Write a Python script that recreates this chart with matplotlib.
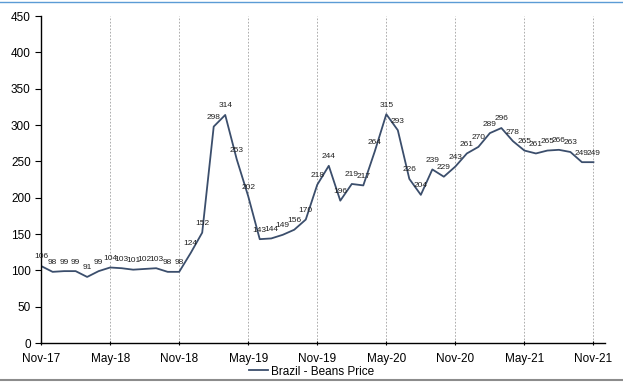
import matplotlib
matplotlib.use("Agg")
import matplotlib.pyplot as plt
from matplotlib.lines import Line2D

plt.rcParams['font.family'] = ['Liberation Sans', 'DejaVu Sans']

# Monthly prices, Nov-17 .. Nov-21
prices = [106, 98, 99, 99, 91, 99, 104, 103, 101, 102, 103, 98,
          98, 124, 152, 298, 314, 253, 202, 143, 144, 149, 156, 170,
          218, 244, 196, 219, 217, 264, 315, 293, 226, 204, 239, 229,
          243, 261, 270, 289, 296, 278, 265, 261, 265, 266, 263, 249, 249]
tick_labels = ["Nov-17", "May-18", "Nov-18", "May-19", "Nov-19",
               "May-20", "Nov-20", "May-21", "Nov-21"]
series_name = "Brazil - Beans Price"

line_color = "#3b4e6c"

fig = plt.figure(figsize=(6.23, 3.85), dpi=100)
ax = fig.add_axes([0.066, 0.109, 0.905, 0.849])

x = list(range(len(prices)))
ax.plot(x, prices, color=line_color, lw=1.3, label=series_name)

for xi, v in zip(x, prices):
    ax.annotate(str(v), (xi, v), xytext=(0, 4), textcoords="offset points",
                ha="center", va="bottom", fontsize=6.0, color="#222222")

tick_pos = list(range(0, len(prices), 6))
ax.set_xticks(tick_pos)
ax.set_xticklabels(tick_labels, fontsize=8.5)
ax.set_xlim(0, 49)
ax.set_ylim(0, 450)
ax.set_yticks(range(0, 451, 50))
ax.tick_params(axis='y', labelsize=8.5, length=4, direction='out')
ax.tick_params(axis='x', length=3, direction='inout', pad=6)

for p in tick_pos[1:]:
    ax.axvline(p, color="#a0a0a0", lw=0.6, ls=(0, (2, 2)), zorder=0)

for s in ("top", "right"):
    ax.spines[s].set_visible(False)
ax.spines["left"].set_linewidth(1.0)
ax.spines["bottom"].set_linewidth(1.0)

fig.legend(handles=[Line2D([0], [0], color=line_color, lw=1.3)],
           labels=[series_name], loc="center", bbox_to_anchor=(0.5, 0.035),
           frameon=False, fontsize=8.5, handlelength=1.6, handletextpad=0.2)

# thin rules framing the figure
fig.add_artist(Line2D([0, 1], [0.995, 0.995], color="#5b9bd5", lw=1.0,
                      transform=fig.transFigure))
fig.add_artist(Line2D([0, 1], [0.012, 0.012], color="#8c8c8c", lw=1.5,
                      transform=fig.transFigure))

fig.savefig("out.png", dpi=100)
